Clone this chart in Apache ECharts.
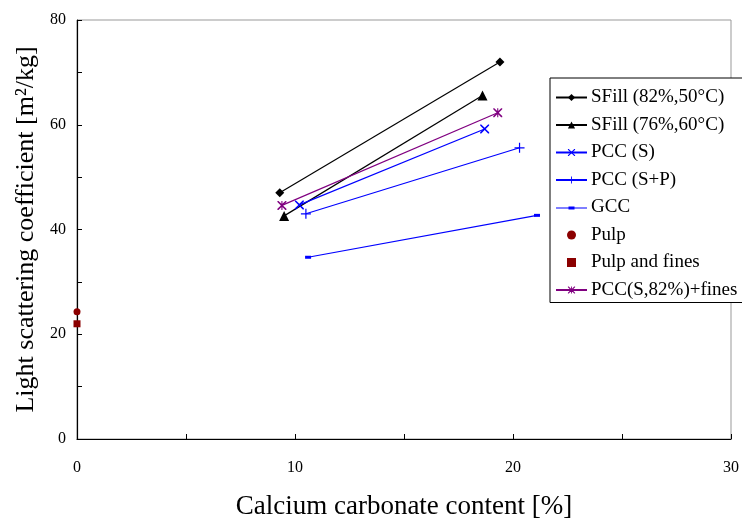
<!DOCTYPE html>
<html><head><meta charset="utf-8">
<script src="https://cdn.jsdelivr.net/npm/echarts@6/dist/echarts.min.js"></script>
<style>html,body{margin:0;padding:0;background:#fff}#c{width:742px;height:518px}</style>
</head><body><div id="c"></div>
<script>
const seriesNames = ['SFill (82%,50°C)','SFill (76%,60°C)','PCC (S)','PCC (S+P)','GCC','Pulp','Pulp and fines','PCC(S,82%)+fines'];
const sfill82 = [[9.3,47.0],[19.4,72.0]];
const sfill76 = [[9.5,42.6],[18.6,65.6]];
const pccS = [[10.2,44.7],[18.7,59.2]];
const pccSP = [[10.5,43.0],[20.3,55.6]];
const gcc = [[10.6,34.7],[21.1,42.7]];
const pulp = [[0,24.3]];
const pulpFines = [[0,22.0]];
const pccFines = [[9.4,44.6],[19.3,62.3]];
const xTicks = [0,10,20,30];
const yTicks = [0,20,40,60,80];

const X_PATH = 'path://M0,0 L1.2,0 L5,3.8 L8.8,0 L10,0 L10,1.2 L6.2,5 L10,8.8 L10,10 L8.8,10 L5,6.2 L1.2,10 L0,10 L0,8.8 L3.8,5 L0,1.2 Z';
const PLUS_PATH = 'path://M4.4,0 L5.6,0 L5.6,4.4 L10,4.4 L10,5.6 L5.6,5.6 L5.6,10 L4.4,10 L4.4,5.6 L0,5.6 L0,4.4 L4.4,4.4 Z';
const AST_PATH = 'path://M0,0 L1.2,0 L5,3.8 L8.8,0 L10,0 L10,1.2 L6.2,5 L10,8.8 L10,10 L8.8,10 L5,6.2 L1.2,10 L0,10 L0,8.8 L3.8,5 L0,1.2 Z M4.4,0 L5.6,0 L5.6,10 L4.4,10 Z';
const GCC_ICON = 'path://M0,0 L0.01,0 L0.01,0.01 Z M0,4.4 L31,4.4 L31,5.6 L0,5.6 Z M12.5,3.5 L18.5,3.5 L18.5,6.5 L12.5,6.5 Z M31,9 L30.99,9 L30.99,8.99 Z';
const SQ_PATH = 'path://M0,0 L10,0 L10,10 L0,10 Z';

const FONT = 'Liberation Serif';
function lineSeries(name, data, color, symbol, size) {
  return {name, type:'line', data, symbol, symbolSize:size, showSymbol:true,
    lineStyle:{color, width:1.2}, itemStyle:{color, borderWidth:0, opacity:1}, z:3, animation:false};
}
const chart = echarts.init(document.getElementById('c'), null, {renderer:'canvas'});
chart.setOption({
  animation:false,
  backgroundColor:'#fff',
  grid:{left:77, right:11, top:20, bottom:79, show:true, borderColor:'#999', borderWidth:1, outerBoundsMode:'none', containLabel:false},
  xAxis:{type:'value', min:0, max:30, interval:5,
    axisLine:{lineStyle:{color:'#000', width:1.2}},
    axisTick:{inside:true, length:5, lineStyle:{color:'#000'}},
    splitLine:{show:false},
    axisLabel:{margin:21, fontFamily:FONT, fontSize:16, color:'#000',
      formatter:v=> xTicks.includes(v)? String(v):''},
    name:'Calcium carbonate content [%]', nameLocation:'middle', nameGap:54,
    nameTextStyle:{fontFamily:FONT, fontSize:27, color:'#000'}},
  yAxis:{type:'value', min:0, max:80, interval:10,
    axisLine:{lineStyle:{color:'#000', width:1.2}},
    axisTick:{inside:true, length:5, lineStyle:{color:'#000'}},
    splitLine:{show:false},
    axisLabel:{margin:11, fontFamily:FONT, fontSize:16, color:'#000',
      formatter:v=> yTicks.includes(v)? String(v):''},
    name:'Light scattering coefficient [m²/kg]', nameLocation:'middle', nameGap:37,
    nameTextStyle:{fontFamily:FONT, fontSize:26, color:'#000'}},
  legend:{orient:'vertical', left:550, top:78, padding:[10,10,3,5],
    backgroundColor:'#fff', borderColor:'#000', borderWidth:1,
    itemWidth:31, itemHeight:9, itemGap:8.5,
    textStyle:{fontFamily:FONT, fontSize:19, color:'#000', lineHeight:17, padding:[0,0,0,-1]},
    data:seriesNames.map(n => n === 'Pulp and fines' ? {name:n, icon:SQ_PATH}
                            : n === 'GCC' ? {name:n, icon:GCC_ICON} : {name:n})},
  series:[
    lineSeries(seriesNames[0], sfill82, '#000', 'diamond', 9),
    lineSeries(seriesNames[1], sfill76, '#000', 'triangle', 10),
    lineSeries(seriesNames[2], pccS, '#0000ff', X_PATH, 9),
    lineSeries(seriesNames[3], pccSP, '#0000ff', PLUS_PATH, 10),
    lineSeries(seriesNames[4], gcc, '#0000ff', 'rect', [6,3]),
    {name:seriesNames[5], type:'scatter', data:pulp, symbol:'circle', symbolSize:7, itemStyle:{color:'#8b0000', opacity:1}},
    {name:seriesNames[6], type:'scatter', data:pulpFines, symbol:'rect', symbolSize:7, itemStyle:{color:'#8b0000', opacity:1}},
    lineSeries(seriesNames[7], pccFines, '#800080', AST_PATH, 9)
  ]
});
</script></body></html>
